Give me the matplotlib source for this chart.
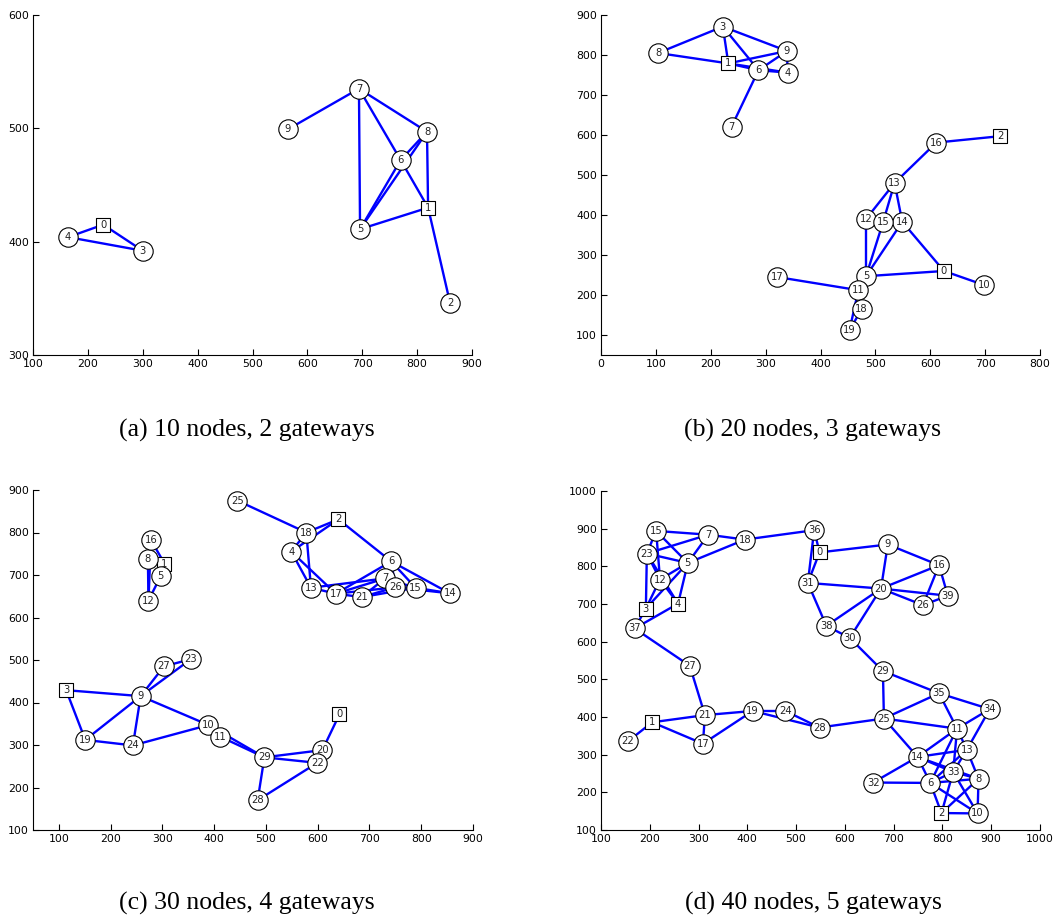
import matplotlib
matplotlib.use("Agg")
import matplotlib.pyplot as plt

# ---------------- Panel (a): 10 nodes, 2 gateways ----------------
a_x = [228, 820, 860, 300, 164, 696, 770, 694, 818, 564]
a_y = [415, 430, 346, 392, 404, 411, 472, 535, 497, 499]
a_gateways = 2
a_edges = [(0, 4), (0, 3), (4, 3), (9, 7), (7, 5), (7, 6), (7, 8), (8, 6),
           (5, 6), (5, 8), (6, 1), (8, 1), (5, 1), (1, 2)]

# ---------------- Panel (b): 20 nodes, 3 gateways ----------------
b_x = [625, 232, 727, 222, 340, 483, 287, 238, 104, 339,
       698, 469, 483, 535, 549, 514, 611, 321, 475, 453]
b_y = [260, 779, 597, 871, 756, 247, 762, 621, 805, 810,
       225, 212, 390, 480, 383, 382, 581, 245, 164, 113]
b_gateways = 3
b_edges = [(3, 8), (3, 1), (3, 6), (3, 9), (8, 1), (1, 9), (1, 6), (1, 4),
           (6, 4), (6, 9), (9, 4), (6, 7), (16, 2), (16, 13), (13, 12),
           (13, 15), (13, 14), (12, 5), (15, 5), (14, 5), (14, 0), (5, 0),
           (0, 10), (17, 11), (5, 11), (11, 18), (11, 19), (18, 19)]

# ---------------- Panel (c): 30 nodes, 4 gateways ----------------
c_x = [642, 304, 640, 114, 549, 297, 742, 730, 272, 258,
       389, 411, 273, 587, 855, 789, 278, 635, 578, 151,
       609, 685, 599, 355, 243, 445, 750, 303, 484, 497]
c_y = [372, 727, 831, 429, 755, 698, 732, 692, 737, 415,
       347, 320, 640, 670, 657, 670, 782, 656, 800, 312,
       288, 648, 258, 502, 299, 875, 671, 485, 170, 271]
c_gateways = 4
c_edges = [(25, 18), (18, 2), (4, 2), (18, 4), (18, 13), (4, 13), (4, 17),
           (2, 6), (6, 17), (6, 15), (6, 14), (6, 26), (13, 17), (13, 7),
           (17, 7), (17, 26), (17, 21), (21, 7), (21, 26), (21, 15),
           (7, 26), (7, 15), (26, 15), (15, 14), (26, 14),
           (16, 1), (16, 12), (8, 12), (5, 12), (1, 5), (8, 1),
           (3, 9), (3, 19), (19, 9), (19, 24), (24, 9), (9, 27), (9, 23),
           (27, 23), (9, 10), (24, 10), (10, 11), (10, 29), (11, 29),
           (29, 20), (29, 22), (20, 22), (20, 0), (29, 28), (28, 22)]

# ---------------- Panel (d): 40 nodes, 5 gateways ----------------
d_x = [548, 205, 798, 192, 258, 278, 775, 320, 874, 688,
       872, 830, 221, 850, 749, 213, 793, 309, 395, 411,
       674, 313, 155, 194, 478, 680, 760, 282, 548, 678,
       610, 524, 658, 822, 897, 793, 537, 169, 562, 811]
d_y = [837, 386, 145, 688, 701, 809, 225, 884, 236, 858,
       144, 369, 765, 313, 294, 894, 803, 329, 871, 416,
       741, 405, 335, 834, 416, 396, 697, 536, 372, 522,
       610, 756, 226, 254, 421, 463, 896, 635, 642, 722]
d_gateways = 5
d_edges = [(15, 7), (15, 5), (15, 12), (15, 23), (23, 7), (23, 5), (23, 12),
           (23, 3), (23, 4), (12, 3), (12, 4), (5, 3), (5, 12), (5, 4),
           (5, 7), (5, 18), (7, 18), (3, 37), (4, 37), (18, 36), (36, 31),
           (36, 0), (0, 31), (0, 9), (9, 16), (9, 20), (16, 20), (16, 26),
           (16, 39), (20, 39), (20, 26), (26, 39), (20, 31), (31, 38),
           (38, 20), (38, 30), (30, 20), (30, 29), (29, 25), (29, 35),
           (35, 25), (35, 34), (35, 11), (34, 11), (34, 13), (25, 11),
           (25, 14), (11, 14), (11, 33), (11, 6), (11, 13), (14, 13),
           (14, 33), (14, 8), (14, 6), (14, 32), (32, 6), (6, 33), (6, 13),
           (6, 8), (6, 2), (6, 10), (33, 8), (33, 2), (33, 10), (13, 8),
           (13, 33), (8, 10), (8, 2), (2, 10), (37, 27), (27, 21), (21, 1),
           (21, 19), (21, 17), (1, 17), (1, 22), (17, 19), (19, 24),
           (19, 28), (24, 28), (28, 25)]

captions = ["(a) 10 nodes, 2 gateways", "(b) 20 nodes, 3 gateways",
            "(c) 30 nodes, 4 gateways", "(d) 40 nodes, 5 gateways"]

W, H = 1058, 918
fig = plt.figure(figsize=(W / 100, H / 100), dpi=100)


def px_axes(l, t, r, b):
    return fig.add_axes([l / W, 1 - b / H, (r - l) / W, (b - t) / H])


panels = [
    (a_x, a_y, a_gateways, a_edges, (33, 15, 472, 355), (100, 900), (300, 600),
     range(100, 901, 100), range(300, 601, 100)),
    (b_x, b_y, b_gateways, b_edges, (601, 15, 1040, 355), (0, 800), (50, 900),
     range(0, 801, 100), range(100, 901, 100)),
    (c_x, c_y, c_gateways, c_edges, (33, 490, 473, 830), (50, 900), (100, 900),
     range(100, 901, 100), range(100, 901, 100)),
    (d_x, d_y, d_gateways, d_edges, (601, 491, 1040, 830), (100, 1000), (100, 1000),
     range(100, 1001, 100), range(100, 1001, 100)),
]
cap_pos = [(247, 430), (813, 430), (247, 903), (813, 903)]

for i, (xs, ys, ng, edges, box, xl, yl, xt, yt) in enumerate(panels):
    ax = px_axes(*box)
    for (u, v) in edges:
        ax.plot([xs[u], xs[v]], [ys[u], ys[v]], color=(0, 0, 1), lw=1.7,
                zorder=1, solid_capstyle='butt')
    for k in range(len(xs)):
        if k < ng:
            ax.scatter(xs[k], ys[k], s=100, marker='s', facecolor='white',
                       edgecolor='black', linewidths=0.8, zorder=3)
        else:
            ax.scatter(xs[k], ys[k], s=195, marker='o', facecolor='white',
                       edgecolor='black', linewidths=0.8, zorder=3)
        ax.text(xs[k], ys[k], str(k), ha='center', va='center', fontsize=7.2,
                zorder=4, color='#222222')
    ax.set_xlim(*xl)
    ax.set_ylim(*yl)
    ax.set_xticks(list(xt))
    ax.set_yticks(list(yt))
    ax.spines['top'].set_visible(False)
    ax.spines['right'].set_visible(False)
    ax.tick_params(direction='in', length=4, width=0.8, labelsize=7.8,
                   pad=3)
    ax.patch.set_alpha(0)
    cx, cy = cap_pos[i]
    fig.text(cx / W, 1 - cy / H, captions[i], ha='center', va='center',
             fontsize=18.5, family='Liberation Serif')

fig.savefig("out.png", dpi=100)
